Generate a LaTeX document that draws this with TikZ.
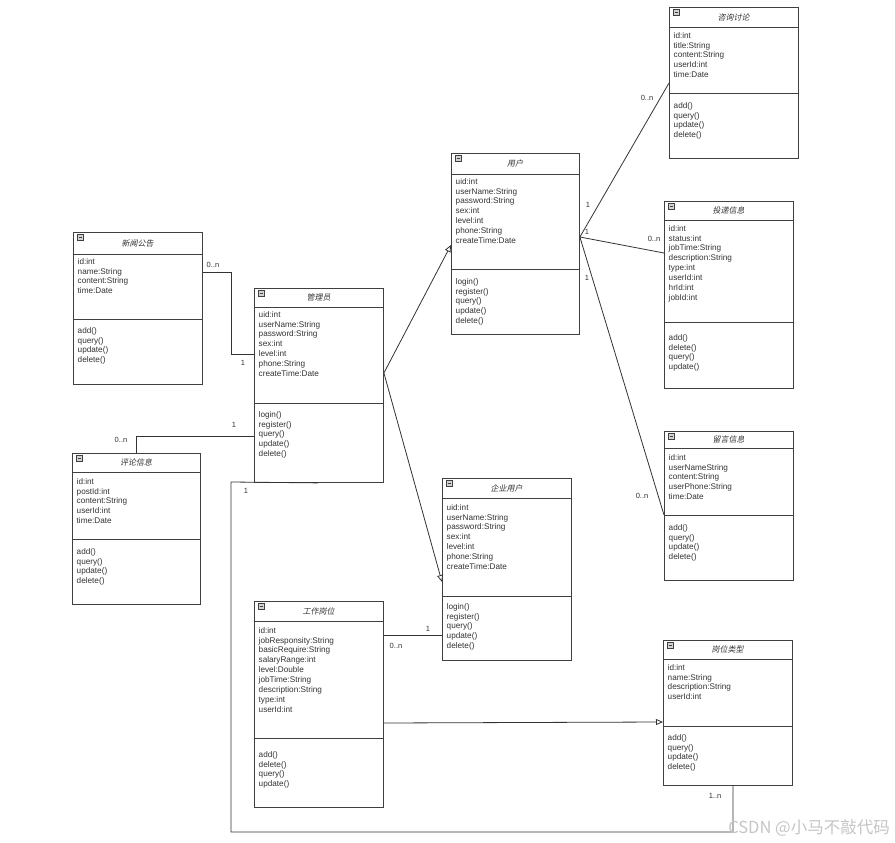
\documentclass[tikz,border=0pt]{standalone}
\usepackage{fontspec}
\setmainfont{Liberation Sans}
\newfontfamily\cjkit[FakeSlant=0.2]{Noto Sans CJK SC}
\newfontfamily\cjk{Noto Sans CJK SC}
\usetikzlibrary{arrows.meta}
\definecolor{txtgray}{HTML}{333333}
\definecolor{linegray}{HTML}{404040}
\tikzset{
  classbox/.style={draw=linegray, line width=0.9pt, fill=white, inner sep=0pt, anchor=north west},
  sepline/.style={draw=linegray, line width=0.9pt},
  iconbox/.style={draw=linegray, fill=gray!35, line width=0.5pt},
  clstitle/.style={inner sep=0pt, font=\cjkit\fontsize{8}{9}\selectfont, text=txtgray},
  member/.style={anchor=west, inner sep=0pt, text height=6pt, text depth=1.5pt, font=\fontsize{8.2}{9.5}\selectfont, text=txtgray},
  mult/.style={inner sep=0pt, font=\fontsize{7.5}{8}\selectfont, text=txtgray},
  assoc/.style={draw=black!80, line width=0.8pt},
  gen/.style={assoc, -{Triangle[open, length=7pt, width=6pt, fill=white]}}
}
% class box: name, left, top, right, bottom, header line, divider, title
\newcommand{\umlclass}[8]{%
  \node[classbox, minimum width={#4-#2}, minimum height={#5-#3}] (#1) at (#2,#3) {};
  \draw[sepline] (#2,#6) -- (#4,#6);
  \draw[sepline] (#2,#7) -- (#4,#7);
  \draw[iconbox] ({#2+4},{#3+2.5}) rectangle ++(6,6);
  \draw[linegray, line width=0.6pt] ({#2+5.5},{#3+5.5}) -- ++(3,0);
  \node[clstitle] (#1-t) at ({(#2+#4)/2},{(#3+#6)/2}) {#8};
}
% list of members: prefix, x, first y, items
\newcommand{\members}[4]{%
  \foreach \m [count=\i] in {#4}
    \node[member] (#1-\i) at (#2,{#3+(\i-1)*9.85}) {\m};
}

\begin{document}
\begin{tikzpicture}[x=1pt, y=-1pt]
\fill[white] (0,0) rectangle (895,843);
\useasboundingbox (0,0) rectangle (895,843);

% classes
\umlclass{zxtl}{669}{7}{798}{158}{27}{93}{咨询讨论}
\members{zxtl-a}{673.5}{36}{id:int,title:String,content:String,userId:int,time:Date}
\members{zxtl-m}{673.5}{106}{add(),query(),update(),delete()}

\umlclass{yonghu}{451}{153}{579}{334}{174}{269}{用户}
\members{yh-a}{455.5}{182}{uid:int,userName:String,password:String,sex:int,level:int,phone:String,createTime:Date}
\members{yh-m}{455.5}{282}{login(),register(),query(),update(),delete()}

\umlclass{tdxx}{664}{201}{793}{388}{220}{322}{投递信息}
\members{tdxx-a}{668.5}{229}{id:int,status:int,jobTime:String,description:String,type:int,userId:int,hrId:int,jobId:int}
\members{tdxx-m}{668.5}{338}{add(),delete(),query(),update()}

\umlclass{xwgg}{73}{232}{202}{384}{254}{319}{新闻公告}
\members{xwgg-a}{77.5}{262}{id:int,name:String,content:String,time:Date}
\members{xwgg-m}{77.5}{331}{add(),query(),update(),delete()}

\umlclass{gly}{254}{288}{383}{482}{307}{403}{管理员}
\members{gly-a}{258.5}{315}{uid:int,userName:String,password:String,sex:int,level:int,phone:String,createTime:Date}
\members{gly-m}{258.5}{415}{login(),register(),query(),update(),delete()}

\umlclass{plxx}{72}{453}{200}{604}{472}{539}{评论信息}
\members{plxx-a}{76.5}{482}{id:int,postId:int,content:String,userId:int,time:Date}
\members{plxx-m}{76.5}{552}{add(),query(),update(),delete()}

\umlclass{qyyh}{442}{478}{571}{660}{498}{596}{企业用户}
\members{qyyh-a}{446.5}{508}{uid:int,userName:String,password:String,sex:int,level:int,phone:String,createTime:Date}
\members{qyyh-m}{446.5}{607}{login(),register(),query(),update(),delete()}

\umlclass{lyxx}{664}{431}{793}{580}{448}{515}{留言信息}
\members{lyxx-a}{668.5}{458}{id:int,userNameString,content:String,userPhone:String,time:Date}
\members{lyxx-m}{668.5}{528}{add(),query(),update(),delete()}

\umlclass{gzgw}{254}{601}{383}{807}{621}{738}{工作岗位}
\members{gzgw-a}{258.5}{631}{id:int,jobResponsity:String,basicRequire:String,salaryRange:int,level:Double,jobTime:String,description:String,type:int,userId:int}
\members{gzgw-m}{258.5}{755}{add(),delete(),query(),update()}

\umlclass{gwlx}{663}{640}{792}{785}{659}{726}{岗位类型}
\members{gwlx-a}{667.5}{668}{id:int,name:String,description:String,userId:int}
\members{gwlx-m}{667.5}{738}{add(),query(),update(),delete()}

% connectors
\coordinate (yh-p) at (yonghu.east |- 0,237);
\draw[assoc] (yh-p) -- (zxtl.west |- 0,83);
\draw[assoc] (yh-p) -- (tdxx.west |- 0,253);
\draw[assoc] (yh-p) -- (lyxx.west |- 0,515);
\node[mult] (m1) at (647,98) {0..n};
\node[mult] (m2) at (588,205) {1};
\node[mult] (m3) at (587,232) {1};
\node[mult] (m4) at (654,239) {0..n};
\node[mult] (m5) at (587,278) {1};
\node[mult] (m6) at (642,496) {0..n};

\coordinate (gly-p) at (gly.east |- 0,373);
\draw[gen] (gly-p) -- (yonghu.west |- 0,245);
\draw[gen] (gly-p) -- (qyyh.west |- 0,582);

\draw[assoc] (xwgg.east |- 0,272) -| (231,354) -- (gly.west |- 0,354);
\node[mult] (m7) at (213,265) {0..n};
\node[mult] (m8) at (243,363) {1};

\draw[assoc] (plxx.north -| 136,0) |- (gly.west |- 0,436);
\node[mult] (m9) at (121,440) {0..n};
\node[mult] (m10) at (234,425) {1};

\draw[assoc] (gzgw.east |- 0,635) -- (qyyh.west |- 0,635);
\node[mult] (m11) at (396,646) {0..n};
\node[mult] (m12) at (428,629) {1};

\draw[gen] (gzgw.east |- 0,723) -- (gwlx.west |- 0,722);

\draw[assoc] (gly.south -| 318,0) -- (231,482) |- (733,832) -- (gwlx.south -| 733,0);
\node[mult] (m13) at (246,491) {1};
\node[mult] (m14) at (715,796) {1..n};

% watermark
\node[inner sep=0pt, text=gray!45, font=\cjk\fontsize{16.5}{17}\selectfont] (wm) at (809,828) {CSDN @小马不敲代码};
\end{tikzpicture}
\end{document}
